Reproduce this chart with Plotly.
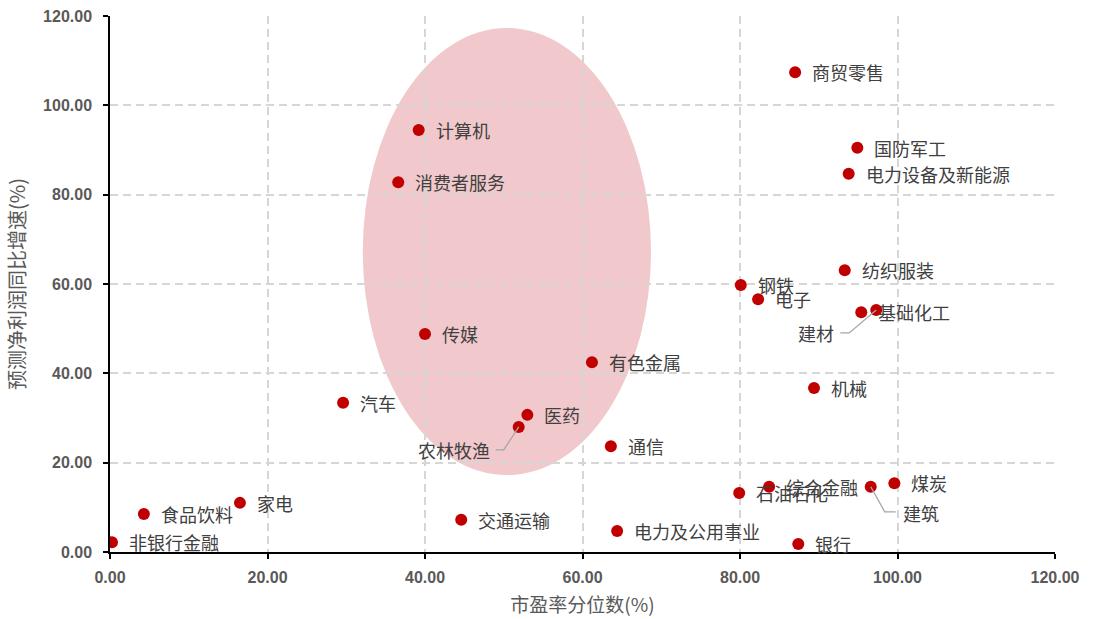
import plotly.graph_objects as go

# Industry, PE percentile (%), forecast net profit YoY growth (%)
industries = [
    "商贸零售", "计算机", "消费者服务", "国防军工", "电力设备及新能源",
    "纺织服装", "钢铁", "电子", "基础化工", "建材", "传媒", "有色金属",
    "机械", "汽车", "医药", "农林牧渔", "通信", "石油石化", "综合金融",
    "建筑", "煤炭", "银行", "电力及公用事业", "交通运输", "家电",
    "食品饮料", "非银行金融",
]
pe_percentile = [
    87.0, 39.2, 36.6, 94.9, 93.8,
    93.3, 80.1, 82.3, 95.4, 97.3, 40.0, 61.2,
    89.4, 29.6, 53.0, 51.9, 63.6, 79.9, 83.7,
    96.6, 99.6, 87.4, 64.4, 44.6, 16.5,
    4.3, 0.25,
]
profit_growth = [
    107.4, 94.5, 82.8, 90.5, 84.7,
    63.1, 59.8, 56.6, 53.7, 54.2, 48.8, 42.5,
    36.7, 33.4, 30.7, 28.0, 23.7, 13.2, 14.6,
    14.6, 15.4, 1.8, 4.7, 7.2, 11.0,
    8.5, 2.2,
]
tick_values = [0, 20, 40, 60, 80, 100, 120]
tick_text = [f"{v:.2f}" for v in tick_values]

CJK = "Noto Sans CJK SC, Noto Sans, sans-serif"
LABEL_COLOR = "#404040"
AXIS_TEXT = "#595959"
LEADER = "#A6A6A6"

fig = go.Figure()

fig.add_trace(go.Scatter(
    x=pe_percentile, y=profit_growth, mode="markers",
    marker=dict(color="#C00000", size=12, line=dict(width=0)),
    hovertext=industries, hoverinfo="text+x+y", showlegend=False,
))

# Labels that sit away from their dot, joined by a bent leader line
# (pixel offsets of the label and the leader path relative to the dot)
moved = {
    "建材": dict(xanchor="right", xshift=-40, yshift=-23,
               path="M 0 0 L -27 -23 L -36 -23"),
    "建筑": dict(xanchor="left", xshift=30, yshift=-26,
               path="M 0 0 L 14 -25 L 25 -25"),
    "农林牧渔": dict(xanchor="right", xshift=-27, yshift=-23,
                 path="M 0 0 L -15 -23 L -23 -23"),
}

annotations = []
shapes = [
    # highlighted cluster
    dict(type="circle", xref="x", yref="y", x0=32.1, x1=68.7, y0=17.2, y1=117.3,
         fillcolor="#F1C8CB", line=dict(width=0), layer="below"),
]

for name, xv, yv in zip(industries, pe_percentile, profit_growth):
    if name in moved:
        m = moved[name]
        annotations.append(dict(
            x=xv, y=yv, xref="x", yref="y", text=name, showarrow=False,
            xanchor=m["xanchor"], yanchor="middle",
            xshift=m["xshift"], yshift=m["yshift"],
            font=dict(family=CJK, size=18, color=LABEL_COLOR),
        ))
        shapes.append(dict(
            type="path", xref="x", yref="y", xsizemode="pixel", ysizemode="pixel",
            xanchor=xv, yanchor=yv, path=m["path"],
            line=dict(color=LEADER, width=1.3), layer="above",
        ))
    else:
        annotations.append(dict(
            x=xv, y=yv, xref="x", yref="y", text=name, showarrow=False,
            xanchor="left", yanchor="middle", xshift=15,
            font=dict(family=CJK, size=18, color=LABEL_COLOR),
        ))

axis_common = dict(
    range=[0, 120], tickvals=tick_values, ticktext=tick_text,
    showgrid=True, gridcolor="#D6D6D6", griddash="8px,5px", gridwidth=1.5,
    zeroline=False, showline=True, linecolor="#000000", linewidth=1.5,
    ticks="outside", ticklen=5, tickcolor="#000000", tickwidth=1.5,
    tickfont=dict(family="Liberation Sans, Arial, sans-serif", size=16,
                  color=AXIS_TEXT, weight="bold"),
    fixedrange=True, automargin=False,
)

fig.update_layout(
    width=1094, height=619,
    margin=dict(l=110, r=39, t=16, b=67),
    paper_bgcolor="white", plot_bgcolor="white",
    xaxis=dict(**axis_common, ticklabelstandoff=5,
               title=dict(text="市盈率分位数(%)", standoff=14,
                          font=dict(family=CJK, size=19, color=AXIS_TEXT))),
    yaxis=dict(**axis_common, ticklabelstandoff=8,
               title=dict(text="预测净利润同比增速(%)", standoff=12,
                          font=dict(family=CJK, size=20, color=AXIS_TEXT))),
    annotations=annotations,
    shapes=shapes,
)

fig.write_html("out.html")
